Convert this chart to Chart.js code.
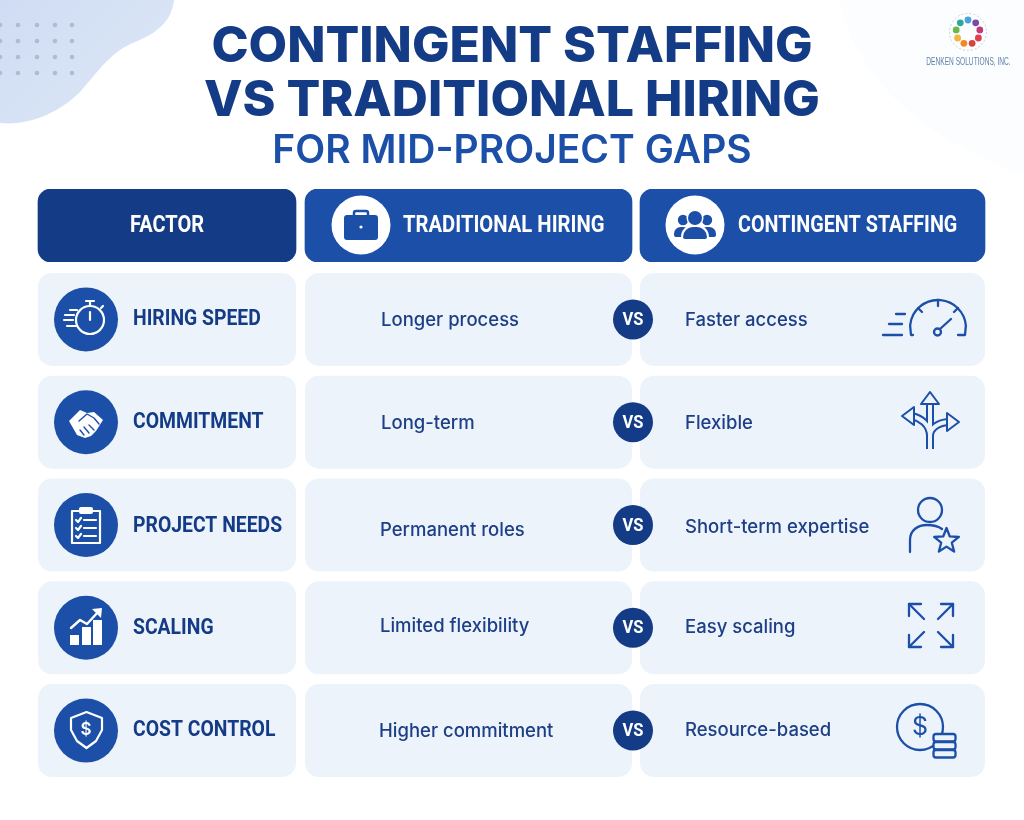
<!DOCTYPE html>
<html>
<head>
<meta charset="utf-8">
<title>Contingent staffing vs traditional hiring</title>
<script src="https://cdn.jsdelivr.net/npm/chart.js@4"></script>
<style>
  html, body { margin: 0; padding: 0; background: #fff; overflow: hidden; }
  canvas { position: absolute; left: 0; }
  #headChart { top: 0; }
  #rowChart { top: 268px; }
</style>
</head>
<body>
<canvas id="headChart" width="1024" height="262"></canvas>
<canvas id="rowChart" width="1024" height="514"></canvas>
<script>
// table content
const titleLines = ['CONTINGENT STAFFING', 'VS TRADITIONAL HIRING'];
const subtitleLine = 'FOR MID-PROJECT GAPS';
const logoText = 'DENKEN SOLUTIONS, INC.';
const vsLabel = 'VS';
const headers = ['FACTOR', 'TRADITIONAL HIRING', 'CONTINGENT STAFFING'];
const factors = ['HIRING SPEED', 'COMMITMENT', 'PROJECT NEEDS', 'SCALING', 'COST CONTROL'];
const traditional = ['Longer process', 'Long-term', 'Permanent roles', 'Limited flexibility', 'Higher commitment'];
const contingent = ['Faster access', 'Flexible', 'Short-term expertise', 'Easy scaling', 'Resource-based'];

// layout, page pixels
const factorCol = [38, 296];
const tradCol = [305, 632];
const contCol = [640, 985];
const rowTop = 268;
const factorNudge = [0, 0.5, 1.5, 1, 0];
const tradNudge = [0, 0.5, 4.5, -2, 0];
const contNudge = [0, 0.5, 1.5, -1, -1];
const tradLeft = [381, 381, 380, 380, 379];

const NAVY = '#143b85';
const BLUE = '#1b4fa8';
const CELL = '#edf3fb';
const TEXT = '#1c3f86';

function squeezed(ctx, text, x, y, k) {
  ctx.fillText(text, x, y, ctx.measureText(text).width * k);
}

function poly(ctx, pts, close) {
  ctx.beginPath();
  pts.forEach((p, i) => i ? ctx.lineTo(p[0], p[1]) : ctx.moveTo(p[0], p[1]));
  if (close) ctx.closePath();
}

function line(ctx, x1, y1, x2, y2) {
  ctx.beginPath();
  ctx.moveTo(x1, y1);
  ctx.lineTo(x2, y2);
  ctx.stroke();
}

function disc(ctx, x, y, r, color) {
  ctx.fillStyle = color;
  ctx.beginPath();
  ctx.arc(x, y, r, 0, Math.PI * 2);
  ctx.fill();
}

function drawBackdrop(ctx) {
  // faint corner at the top right
  ctx.fillStyle = '#fcfdfe';
  ctx.beginPath();
  ctx.moveTo(840, 0);
  ctx.bezierCurveTo(850, 60, 900, 130, 1024, 175);
  ctx.lineTo(1024, 0);
  ctx.closePath();
  ctx.fill();

  // blob at the top left
  const g = ctx.createLinearGradient(0, 0, 120, 120);
  g.addColorStop(0, '#cfdcf3');
  g.addColorStop(1, '#dbe6f6');
  ctx.fillStyle = g;
  ctx.beginPath();
  ctx.moveTo(0, 0);
  ctx.lineTo(174, 0);
  ctx.bezierCurveTo(172, 22, 155, 34, 135, 42);
  ctx.bezierCurveTo(110, 52, 98, 72, 80, 92);
  ctx.bezierCurveTo(60, 112, 30, 126, 0, 123);
  ctx.closePath();
  ctx.fill();

  [0, 18, 37, 55, 72].forEach(x => [25, 41, 57, 73].forEach(y => disc(ctx, x, y, 2.3, '#adbbd6')));
}

function drawLogo(ctx) {
  const colors = ['#4aa3df', '#7d4aa0', '#c23a7a', '#e0404f', '#d8433a', '#ee8a2c', '#f2b63c', '#6cb84a', '#2fa89a'];
  colors.forEach((c, i) => {
    const a = -Math.PI / 2 + i * Math.PI * 2 / colors.length;
    disc(ctx, 968 + 12 * Math.cos(a), 32 + 12 * Math.sin(a), 3.4, c);
  });
  ctx.strokeStyle = '#c5d0e2';
  ctx.lineWidth = 1;
  ctx.beginPath();
  ctx.arc(968, 32, 18.5, 0, Math.PI * 2);
  ctx.setLineDash([2, 2]);
  ctx.stroke();
  ctx.setLineDash([]);
  ctx.fillStyle = '#5f82ab';
  ctx.font = '11px "Liberation Sans"';
  ctx.textAlign = 'center';
  ctx.textBaseline = 'middle';
  squeezed(ctx, logoText, 968.5, 62, 0.6);
}

function drawBriefcase(ctx) {
  disc(ctx, 361, 225, 29.5, '#fff');
  ctx.fillStyle = BLUE;
  ctx.beginPath();
  ctx.roundRect(344, 215, 34, 25, 3);
  ctx.fill();
  ctx.strokeStyle = BLUE;
  ctx.lineWidth = 2.5;
  ctx.beginPath();
  ctx.roundRect(354, 211, 14, 7, 2);
  ctx.stroke();
  disc(ctx, 361, 227, 1.6, '#fff');
}

function drawTeam(ctx) {
  disc(ctx, 695, 225, 29.5, '#fff');
  const blob = (cx, top, w, h) => {
    ctx.beginPath();
    ctx.roundRect(cx - w / 2, top, w, h, [w / 2.4, w / 2.4, 2, 2]);
    ctx.fill();
  };
  disc(ctx, 683, 220, 5.2, BLUE);
  disc(ctx, 707, 220, 5.2, BLUE);
  ctx.fillStyle = BLUE;
  blob(682, 227, 16, 10);
  blob(708, 227, 16, 10);
  disc(ctx, 695, 218, 8.5, '#fff');
  disc(ctx, 695, 218, 7, BLUE);
  ctx.fillStyle = '#fff';
  blob(695, 225, 28, 16);
  ctx.fillStyle = BLUE;
  blob(695, 227, 24, 12);
}

function drawFactorIcon(ctx, i) {
  ctx.save();
  ctx.strokeStyle = '#fff';
  ctx.fillStyle = '#fff';
  ctx.lineWidth = 2.2;
  ctx.lineCap = 'round';
  ctx.lineJoin = 'round';
  if (i === 0) {
    ctx.beginPath();
    ctx.arc(90, 320, 14, 0, Math.PI * 2);
    ctx.stroke();
    line(ctx, 90, 320, 90, 312);
    line(ctx, 90, 306, 90, 302);
    line(ctx, 86, 301, 94, 301);
    line(ctx, 101, 308, 103, 306);
    line(ctx, 70, 310, 77, 310);
    line(ctx, 65, 315, 74, 315);
    line(ctx, 64, 320, 73, 320);
    line(ctx, 67, 326, 76, 326);
  } else if (i === 1) {
    poly(ctx, [[69, 421], [80, 410], [87, 413], [94, 412], [103, 420], [96, 431], [91, 436], [85, 438], [77, 435]], true);
    ctx.fill();
    ctx.strokeStyle = BLUE;
    ctx.lineWidth = 1.4;
    poly(ctx, [[79, 421], [87, 414], [94, 418], [99, 424]]);
    ctx.stroke();
    line(ctx, 80, 430, 84, 435);
    line(ctx, 84, 427, 89, 433);
    line(ctx, 89, 425, 94, 430);
  } else if (i === 2) {
    ctx.beginPath();
    ctx.rect(72, 511, 28, 32);
    ctx.stroke();
    ctx.beginPath();
    ctx.roundRect(79, 507, 14, 7, 2);
    ctx.fill();
    [520, 528, 536].forEach(y => {
      poly(ctx, [[76, y], [78, y + 2], [81, y - 2]]);
      ctx.stroke();
      line(ctx, 84, y, 96, y);
    });
  } else if (i === 3) {
    ctx.fillRect(70, 635, 9, 10);
    ctx.fillRect(82, 627, 9, 18);
    ctx.fillRect(93, 620, 9, 25);
    ctx.lineWidth = 2.4;
    poly(ctx, [[71, 628], [80, 620], [87, 624], [99, 611]]);
    ctx.stroke();
    poly(ctx, [[102, 608], [92, 609], [101, 618]], true);
    ctx.fill();
  } else {
    poly(ctx, [[86.5, 712], [102, 718], [102, 730], [96, 741], [86.5, 748], [77, 741], [71, 730], [71, 718]], true);
    ctx.stroke();
    ctx.font = '600 17px Inter';
    ctx.textAlign = 'center';
    ctx.textBaseline = 'middle';
    ctx.fillText('$', 86, 730);
  }
  ctx.restore();
}

function drawContIcon(ctx, i) {
  ctx.save();
  ctx.strokeStyle = BLUE;
  ctx.lineWidth = 2.3;
  ctx.lineCap = 'round';
  ctx.lineJoin = 'round';
  if (i === 0) {
    ctx.beginPath();
    ctx.moveTo(913, 335);
    ctx.lineTo(911, 335);
    ctx.arc(938, 328, 28, Math.PI * 1.03, Math.PI * 1.97);
    ctx.lineTo(965, 335);
    ctx.lineTo(958, 335);
    ctx.stroke();
    line(ctx, 938, 300, 938, 306);
    line(ctx, 918, 308, 922, 312);
    line(ctx, 958, 308, 954, 312);
    line(ctx, 940, 329, 951, 319);
    ctx.beginPath();
    ctx.arc(937.5, 332, 3.5, 0, Math.PI * 2);
    ctx.stroke();
    line(ctx, 883, 335, 902, 335);
    line(ctx, 889, 324, 902, 324);
    line(ctx, 896, 314, 905, 314);
  } else if (i === 1) {
    // outlined arrows: thick blue stroke with a thinner cell coloured one on top
    const paths = [
      c => { c.moveTo(930, 449); c.lineTo(930, 402); },
      c => { c.moveTo(930, 449); c.lineTo(930, 436); c.bezierCurveTo(930, 424, 920, 418, 912, 416); },
      c => { c.moveTo(930, 449); c.lineTo(930, 436); c.bezierCurveTo(930, 428, 938, 423, 948, 422); }
    ];
    const heads = [
      [[930, 392], [921, 404], [939, 404]],
      [[902, 416], [914, 407], [914, 425]],
      [[959, 422], [947, 413], [947, 431]]
    ];
    ctx.lineCap = 'butt';
    [[8, BLUE], [4, CELL]].forEach(s => {
      ctx.lineWidth = s[0];
      ctx.strokeStyle = s[1];
      paths.forEach(p => { ctx.beginPath(); p(ctx); ctx.stroke(); });
    });
    ctx.lineWidth = 2;
    ctx.strokeStyle = BLUE;
    ctx.fillStyle = CELL;
    heads.forEach(h => { poly(ctx, h, true); ctx.fill(); ctx.stroke(); });
  } else if (i === 2) {
    ctx.beginPath();
    ctx.arc(930, 510, 12, 0, Math.PI * 2);
    ctx.stroke();
    ctx.beginPath();
    ctx.moveTo(910, 552);
    ctx.lineTo(910, 540);
    ctx.bezierCurveTo(910, 530, 918, 525, 927, 525);
    ctx.bezierCurveTo(934, 525, 938, 526, 942, 529);
    ctx.stroke();
    const star = [];
    for (let k = 0; k < 10; k++) {
      const r = k % 2 ? 5.6 : 13;
      const a = -Math.PI / 2 + k * Math.PI / 5;
      star.push([946.5 + r * Math.cos(a), 541 + r * Math.sin(a)]);
    }
    poly(ctx, star, true);
    ctx.fillStyle = CELL;
    ctx.fill();
    ctx.stroke();
  } else if (i === 3) {
    const arrows = [[909, 604, 1, 1], [953, 604, -1, 1], [909, 647, 1, -1], [953, 647, -1, -1]];
    arrows.forEach(a => {
      line(ctx, a[0], a[1], a[0] + 15 * a[2], a[1] + 15 * a[3]);
      poly(ctx, [[a[0] + 12 * a[2], a[1]], [a[0], a[1]], [a[0], a[1] + 12 * a[3]]]);
      ctx.stroke();
    });
  } else {
    ctx.beginPath();
    ctx.arc(920, 727, 23, 0, Math.PI * 2);
    ctx.stroke();
    ctx.fillStyle = BLUE;
    ctx.font = '400 25px Inter';
    ctx.textAlign = 'center';
    ctx.textBaseline = 'middle';
    ctx.fillText('$', 920, 727);
    [734, 742, 750].forEach(y => {
      ctx.beginPath();
      ctx.roundRect(933.5, y, 22, 7.5, 2.5);
      ctx.fillStyle = CELL;
      ctx.fill();
      ctx.stroke();
    });
  }
  ctx.restore();
}

const headPlugin = {
  id: 'headPlugin',
  beforeDraw(chart) {
    drawBackdrop(chart.ctx);
    drawLogo(chart.ctx);
  },
  afterDatasetsDraw(chart) {
    const ctx = chart.ctx;
    const y = chart.getDatasetMeta(0).data[0].y;
    ctx.save();
    drawBriefcase(ctx);
    drawTeam(ctx);
    ctx.fillStyle = '#fff';
    ctx.font = '700 23px Roboto';
    ctx.textBaseline = 'middle';
    ctx.textAlign = 'center';
    squeezed(ctx, headers[0], 167, y + 1, 0.87);
    ctx.textAlign = 'left';
    squeezed(ctx, headers[1], 403, y + 1, 0.88);
    squeezed(ctx, headers[2], 738, y + 1, 0.86);
    ctx.restore();
  }
};

const rowPlugin = {
  id: 'rowPlugin',
  afterDatasetsDraw(chart) {
    const ctx = chart.ctx;
    const bars = chart.getDatasetMeta(0).data;
    ctx.save();
    ctx.translate(0, -rowTop);
    factors.forEach((f, i) => {
      const y = bars[i].y + rowTop;
      disc(ctx, 86, y, 32, BLUE);
      drawFactorIcon(ctx, i);
      disc(ctx, 633, y, 20, NAVY);
      drawContIcon(ctx, i);

      ctx.textBaseline = 'middle';
      ctx.textAlign = 'left';
      ctx.fillStyle = NAVY;
      ctx.font = '700 22px Roboto';
      squeezed(ctx, f, 133, y + factorNudge[i], 0.88);

      ctx.fillStyle = TEXT;
      ctx.font = '500 18.5px Inter';
      ctx.fillText(traditional[i], tradLeft[i], y + 1 + tradNudge[i]);
      ctx.fillText(contingent[i], 685, y + 1 + contNudge[i]);

      ctx.fillStyle = '#fff';
      ctx.textAlign = 'center';
      ctx.font = '700 18px Roboto';
      squeezed(ctx, vsLabel, 633, y + 1, 0.92);
    });
    ctx.restore();
  }
};

const flatAxes = {
  x: { type: 'linear', min: 0, max: 1024, display: false },
  y: { display: false }
};

new Chart(document.getElementById('headChart'), {
  type: 'bar',
  data: {
    labels: ['header'],
    datasets: [
      { label: headers[0], data: [factorCol], backgroundColor: NAVY, borderRadius: 13, borderSkipped: false, grouped: false },
      { label: headers[1], data: [tradCol], backgroundColor: BLUE, borderRadius: 13, borderSkipped: false, grouped: false },
      { label: headers[2], data: [contCol], backgroundColor: BLUE, borderRadius: 13, borderSkipped: false, grouped: false }
    ]
  },
  options: {
    indexAxis: 'y',
    responsive: false,
    devicePixelRatio: 1,
    animation: false,
    categoryPercentage: 1,
    barPercentage: 1,
    scales: flatAxes,
    layout: { padding: 0 },
    plugins: {
      legend: { display: false },
      tooltip: { enabled: false },
      title: {
        display: true,
        text: titleLines,
        color: NAVY,
        font: { family: 'Inter', size: 50, weight: '800', lineHeight: 54 / 50 },
        padding: { top: 20, bottom: 0 }
      },
      subtitle: {
        display: true,
        text: subtitleLine,
        color: BLUE,
        font: { family: 'Inter', size: 39, weight: '600', lineHeight: 46 / 39 },
        padding: { top: 0, bottom: 15 }
      }
    }
  },
  plugins: [headPlugin]
});

new Chart(document.getElementById('rowChart'), {
  type: 'bar',
  data: {
    labels: factors,
    datasets: [
      { label: headers[0], data: factors.map(() => factorCol), backgroundColor: CELL, borderRadius: 14, borderSkipped: false, grouped: false },
      { label: headers[1], data: traditional.map(() => tradCol), backgroundColor: CELL, borderRadius: 14, borderSkipped: false, grouped: false },
      { label: headers[2], data: contingent.map(() => contCol), backgroundColor: CELL, borderRadius: 14, borderSkipped: false, grouped: false }
    ]
  },
  options: {
    indexAxis: 'y',
    responsive: false,
    devicePixelRatio: 1,
    animation: false,
    categoryPercentage: 1,
    barPercentage: 0.905,
    scales: flatAxes,
    layout: { padding: 0 },
    plugins: { legend: { display: false }, tooltip: { enabled: false } }
  },
  plugins: [rowPlugin]
});
</script>
</body>
</html>
